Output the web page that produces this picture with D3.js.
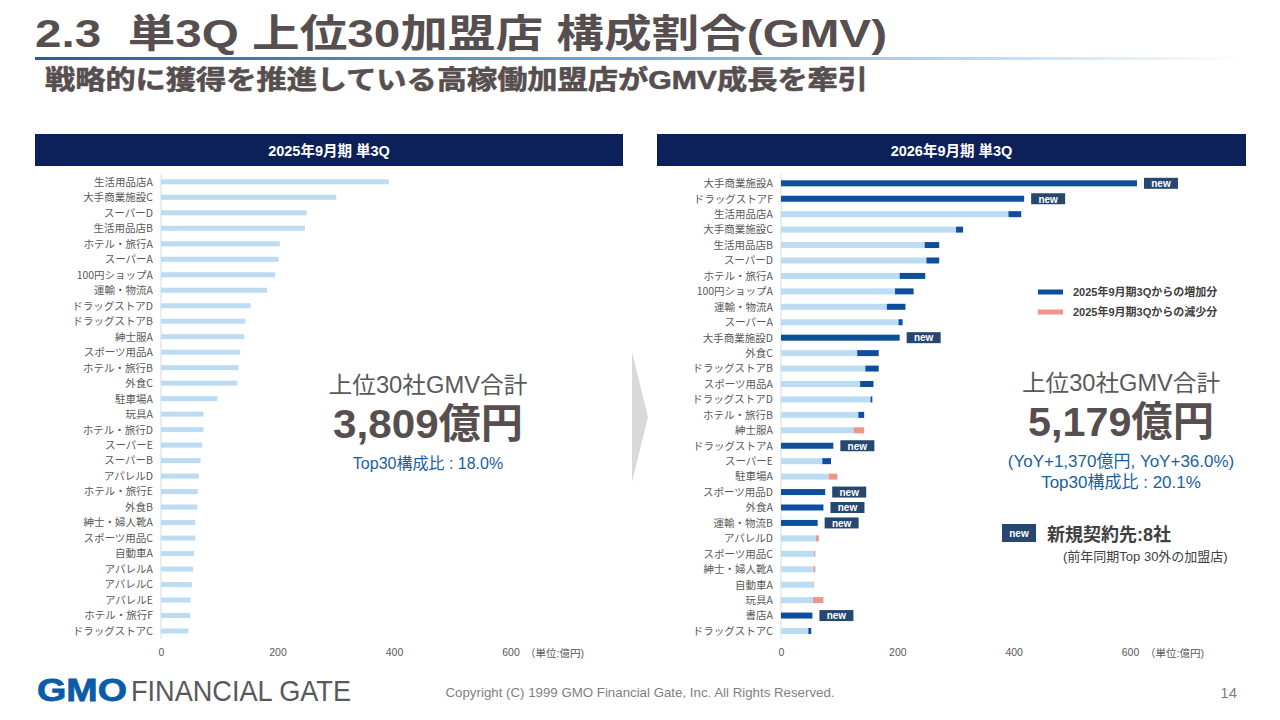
<!DOCTYPE html>
<html><head><meta charset="utf-8">
<script src="https://cdn.jsdelivr.net/npm/d3@7"></script>
<style>
html,body{margin:0;padding:0;background:#fff;}
svg{display:block;font-family:"Liberation Sans","Noto Sans CJK JP",sans-serif;}
</style></head>
<body>
<svg id="c" width="1280" height="720"></svg>
<script>
// ---- data ----
const cats2025 = ["生活用品店A","大手商業施設C","スーパーD","生活用品店B","ホテル・旅行A","スーパーA","100円ショップA","運輸・物流A","ドラッグストアD","ドラッグストアB","紳士服A","スポーツ用品A","ホテル・旅行B","外食C","駐車場A","玩具A","ホテル・旅行D","スーパーE","スーパーB","アパレルD","ホテル・旅行E","外食B","紳士・婦人靴A","スポーツ用品C","自動車A","アパレルA","アパレルC","アパレルE","ホテル・旅行F","ドラッグストアC"];
const gmv2025 = [391,301,250,247,204,202,196,182,154,145,143,136,133,131,97,73,73,71,68,65,63,62,59,59,57,55,53,51,50,47];

const cats2026 = ["大手商業施設A","ドラッグストアF","生活用品店A","大手商業施設C","生活用品店B","スーパーD","ホテル・旅行A","100円ショップA","運輸・物流A","スーパーA","大手商業施設D","外食C","ドラッグストアB","スポーツ用品A","ドラッグストアD","ホテル・旅行B","紳士服A","ドラッグストアA","スーパーE","駐車場A","スポーツ用品D","外食A","運輸・物流B","アパレルD","スポーツ用品C","紳士・婦人靴A","自動車A","玩具A","書店A","ドラッグストアC"];
const gmv2026 = [612,418,413,313,272,272,248,228,214,209,204,168,168,159,157,143,125,90,86,82,76,73,63,60,57,56,56,55,54,52];
// previous-year value of the same merchant (null = new merchant)
const prev2026 = [null,null,391,301,247,250,204,196,182,202,null,131,145,136,154,133,143,null,71,97,null,null,null,65,59,59,57,73,null,47];

const xTicks = [0,200,400,600];
const legendLabels = ["2025年9月期3Qからの増加分","2025年9月期3Qからの減少分"];

const C = {light:"#bcdcf4", dark:"#0d4f9c", down:"#f0948a", badge:"#27486e", text:"#595959", title:"#574f4f", navy:"#0c2159", blue:"#1a5fa0", axis:"#d9d9d9"};

const svg = d3.select("#c");
const defs = svg.append("defs");
const g1 = defs.append("linearGradient").attr("id","tl").attr("x1","0").attr("x2","1");
g1.append("stop").attr("offset","0").attr("stop-color","#1f5f9c");
g1.append("stop").attr("offset","0.55").attr("stop-color","#7db3dd");
g1.append("stop").attr("offset","1").attr("stop-color","#ffffff");

// ---- title ----
svg.append("text").attr("x",35).attr("y",47).attr("font-size",39).attr("font-weight","bold")
  .attr("fill",C.title).attr("textLength",852).attr("lengthAdjust","spacingAndGlyphs")
  .text("2.3\u00a0\u00a0単3Q 上位30加盟店 構成割合(GMV)");
svg.append("rect").attr("x",35).attr("y",57).attr("width",1212).attr("height",3).attr("fill","url(#tl)");
svg.append("text").attr("x",45).attr("y",89).attr("font-size",26).attr("font-weight","bold")
  .attr("fill",C.title).attr("stroke",C.title).attr("stroke-width",0.6)
  .attr("textLength",823).attr("lengthAdjust","spacingAndGlyphs")
  .text("戦略的に獲得を推進している高稼働加盟店がGMV成長を牽引");

// ---- panel headers ----
[[35,623,"2025年9月期 単3Q"],[657,1246,"2026年9月期 単3Q"]].forEach(([a,b,t])=>{
  svg.append("rect").attr("x",a).attr("y",134).attr("width",b-a).attr("height",32).attr("fill",C.navy);
  svg.append("text").attr("x",(a+b)/2).attr("y",156).attr("text-anchor","middle").attr("font-size",14.5)
    .attr("font-weight","bold").attr("fill","#fff").text(t);
});

// ---- arrow ----
svg.append("path").attr("d",`M632,352 L648,417 L632,482 Z`).attr("fill","#d9d9d9");

const BH = 6;
function axisX(x, tx){
  const ax = svg.append("g").attr("transform",`translate(0,647)`)
    .call(d3.axisBottom(x).tickValues(xTicks).tickSize(0).tickPadding(2));
  ax.select(".domain").remove();
  ax.selectAll("text").attr("font-size",10.5).attr("fill",C.text).attr("font-family","Liberation Sans, Noto Sans CJK JP");
  svg.append("text").attr("x",tx).attr("y",657).attr("font-size",10.5).attr("fill",C.text).text("（単位:億円)");
}
function axisY(y, x0){
  const ay = svg.append("g").attr("transform",`translate(${x0-8},0)`)
    .call(d3.axisLeft(y).tickSize(0).tickPadding(0));
  ay.select(".domain").remove();
  ay.selectAll("text").attr("font-size",10.5).attr("fill",C.text).attr("font-family","Noto Sans CJK JP");
  svg.append("line").attr("x1",x0).attr("x2",x0).attr("y1",174).attr("y2",639).attr("stroke",C.axis).attr("stroke-width",1);
}

// ---- left chart ----
const xL = d3.scaleLinear().domain([0,600]).range([161,510.5]);
const yL = d3.scalePoint().domain(cats2025).range([181.8,631]);
axisY(yL,161);
svg.append("g").selectAll("rect").data(cats2025).join("rect")
  .attr("x",xL(0)).attr("y",d=>yL(d)-2.5).attr("height",5)
  .attr("width",(d,i)=>xL(gmv2025[i])-xL(0)).attr("fill",C.light);
axisX(xL,525);

// ---- right chart ----
const xR = d3.scaleLinear().domain([0,600]).range([781,1130]);
const yR = d3.scalePoint().domain(cats2026).range([183.3,631]);
axisY(yR,781);
const gR = svg.append("g");
cats2026.forEach((c,i)=>{
  const cur = gmv2026[i], prev = prev2026[i], yy = yR(c)-BH/2;
  if(prev===null){
    gR.append("rect").attr("x",xR(0)).attr("y",yy).attr("height",BH).attr("width",xR(cur)-xR(0)).attr("fill",C.dark);
    const bx = xR(cur)+7;
    gR.append("rect").attr("x",bx).attr("y",yR(c)-5.5).attr("width",34).attr("height",11).attr("fill",C.badge);
    gR.append("text").attr("x",bx+17).attr("y",yR(c)+3.8).attr("text-anchor","middle").attr("font-size",10)
      .attr("font-weight","bold").attr("fill","#fff").text("new");
  } else {
    const base = Math.min(cur,prev);
    gR.append("rect").attr("x",xR(0)).attr("y",yy).attr("height",BH).attr("width",xR(base)-xR(0)).attr("fill",C.light);
    if(cur>prev) gR.append("rect").attr("x",xR(prev)).attr("y",yy).attr("height",BH).attr("width",xR(cur)-xR(prev)).attr("fill",C.dark);
    if(prev>cur) gR.append("rect").attr("x",xR(cur)).attr("y",yy).attr("height",BH).attr("width",xR(prev)-xR(cur)).attr("fill",C.down);
  }
});
axisX(xR,1145);

// ---- legend ----
[[C.dark,292],[C.down,312]].forEach(([col,y],i)=>{
  svg.append("rect").attr("x",1038).attr("y",y-2.5).attr("width",25).attr("height",5).attr("fill",col);
  svg.append("text").attr("x",1073).attr("y",y+4).attr("font-size",11).attr("font-weight","bold").attr("fill","#404040").text(legendLabels[i]);
});

// ---- summary texts ----
function summary(cx, y0, total, w1, w2){
  svg.append("text").attr("x",cx).attr("y",y0).attr("text-anchor","middle").attr("font-size",23).attr("fill",C.text)
    .attr("textLength",w1).attr("lengthAdjust","spacingAndGlyphs").text("上位30社GMV合計");
  svg.append("text").attr("x",cx).attr("y",y0+45).attr("text-anchor","middle").attr("font-size",41).attr("font-weight","bold").attr("fill",C.title)
    .attr("textLength",w2).attr("lengthAdjust","spacingAndGlyphs").text(total);
}
summary(428,393,"3,809億円",199,190);
svg.append("text").attr("x",428).attr("y",469).attr("text-anchor","middle").attr("font-size",16).attr("fill",C.blue).text("Top30構成比 : 18.0%");
summary(1121,391,"5,179億円",198,186);
svg.append("text").attr("x",1121).attr("y",467).attr("text-anchor","middle").attr("font-size",17).attr("fill",C.blue).text("(YoY+1,370億円, YoY+36.0%)");
svg.append("text").attr("x",1121).attr("y",488).attr("text-anchor","middle").attr("font-size",17).attr("fill",C.blue).text("Top30構成比 : 20.1%");

svg.append("rect").attr("x",1002).attr("y",524).attr("width",34).attr("height",18).attr("fill",C.badge);
svg.append("text").attr("x",1019).attr("y",537).attr("text-anchor","middle").attr("font-size",10).attr("font-weight","bold").attr("fill","#fff").text("new");
svg.append("text").attr("x",1047).attr("y",541).attr("font-size",18).attr("font-weight","bold").attr("fill","#404040").text("新規契約先:8社");
svg.append("text").attr("x",1063).attr("y",561).attr("font-size",13).attr("fill","#404040").text("(前年同期Top 30外の加盟店)");

// ---- footer ----
svg.append("text").attr("x",37).attr("y",701).attr("font-size",31).attr("font-weight","bold").attr("fill","#0a5ca8")
  .attr("stroke","#0a5ca8").attr("stroke-width",0.8)
  .attr("textLength",90).attr("lengthAdjust","spacingAndGlyphs").text("GMO");
svg.append("text").attr("x",131).attr("y",701).attr("font-size",30).attr("fill","#595959")
  .attr("textLength",220).attr("lengthAdjust","spacingAndGlyphs").text("FINANCIAL GATE");
svg.append("text").attr("x",640).attr("y",697).attr("text-anchor","middle").attr("font-size",13).attr("fill","#7f7f7f")
  .attr("textLength",389).attr("lengthAdjust","spacingAndGlyphs")
  .text("Copyright (C) 1999 GMO Financial Gate, Inc. All Rights Reserved.");
svg.append("text").attr("x",1237).attr("y",698).attr("text-anchor","end").attr("font-size",15).attr("fill","#7f7f7f").text("14");
</script>
</body></html>
